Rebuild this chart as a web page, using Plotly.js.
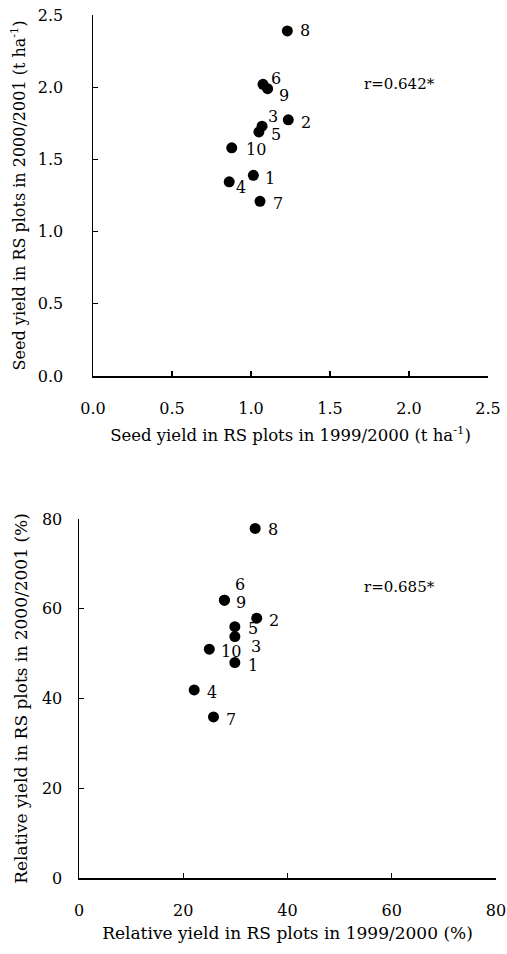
<!DOCTYPE html>
<html>
<head>
<meta charset="utf-8">
<script src="https://cdn.plot.ly/plotly-3.0.1.min.js"></script>
<style>html,body{margin:0;padding:0;background:#fff;}#chart{width:507px;height:954px;}</style>
</head>
<body>
<div id="chart"></div>
<script>
// Genotype numbers
const genotypes = ["1","2","3","4","5","6","7","8","9","10"];
// Top panel: seed yield (t/ha)
const seedYield1999 = [1.015, 1.236, 1.07, 0.862, 1.05, 1.076, 1.057, 1.23, 1.105, 0.878];
const seedYield2000 = [1.39, 1.774, 1.73, 1.345, 1.69, 2.02, 1.21, 2.39, 1.99, 1.58];
// Bottom panel: relative yield (%)
const relYield1999 = [29.9, 34.1, 29.9, 22.1, 29.9, 27.9, 25.8, 33.8, 27.9, 25.0];
const relYield2000 = [48.0, 57.9, 53.8, 41.9, 56.0, 61.9, 35.9, 77.9, 61.9, 51.0];
const rTop = "r=0.642*";
const rBottom = "r=0.685*";
const seedTicks = [0, 0.5, 1.0, 1.5, 2.0, 2.5];
const seedTickText = ["0.0","0.5","1.0","1.5","2.0","2.5"];
const relTicks = [0, 20, 40, 60, 80];

// label offsets (pixels) — styling only
const topShift = [[17,-3],[18,-3],[11,10],[12,-6],[17,-3],[13,6],[18,-2],[18,0],[16,-7],[24,-2]];
const botShift = [[18,-3],[17,-2],[21,-10],[18,-3],[18,-2],[16,16],[18,-3],[18,-1],[17,-2],[22,-2]];

const FONT = "DejaVu Serif, Liberation Serif, serif";

const traces = [
  {x: seedYield1999, y: seedYield2000, mode: "markers", type: "scatter",
   marker: {color: "#000", size: 11}, xaxis: "x", yaxis: "y", hoverinfo: "x+y"},
  {x: relYield1999, y: relYield2000, mode: "markers", type: "scatter",
   marker: {color: "#000", size: 11}, xaxis: "x2", yaxis: "y2", hoverinfo: "x+y"}
];

const annotations = [];
genotypes.forEach((g, i) => {
  annotations.push({x: seedYield1999[i], y: seedYield2000[i], xref: "x", yref: "y",
    text: g, showarrow: false, xshift: topShift[i][0], yshift: topShift[i][1],
    font: {family: FONT, size: 16, color: "#000"}});
  annotations.push({x: relYield1999[i], y: relYield2000[i], xref: "x2", yref: "y2",
    text: g, showarrow: false, xshift: botShift[i][0], yshift: botShift[i][1],
    font: {family: FONT, size: 16, color: "#000"}});
});
annotations.push({x: 1.943, y: 2.02, xref: "x", yref: "y", text: rTop, showarrow: false,
  font: {family: FONT, size: 15, color: "#000"}});
annotations.push({x: 61.4, y: 64.8, xref: "x2", yref: "y2", text: rBottom, showarrow: false,
  font: {family: FONT, size: 15, color: "#000"}});

const axisCommon = {
  showgrid: false, zeroline: false, showline: true, linecolor: "#000", linewidth: 1.5,
  ticks: "inside", ticklen: 5, tickwidth: 1.3, tickcolor: "#000",
  tickfont: {family: FONT, size: 16, color: "#000"}, automargin: false, fixedrange: true
};

const layout = {
  width: 507, height: 954,
  margin: {l: 0, r: 0, t: 0, b: 0},
  paper_bgcolor: "#fff", plot_bgcolor: "#fff",
  showlegend: false,
  xaxis: Object.assign({}, axisCommon, {
    domain: [93/507, 488/507], anchor: "y", range: [0, 2.5],
    tickvals: seedTicks, ticktext: seedTickText, ticklabelstandoff: 17,
    title: {text: "Seed yield in RS plots in 1999/2000 (t ha<sup>-1</sup>)", standoff: 12,
      font: {family: FONT, size: 16.5, color: "#000"}}
  }),
  yaxis: Object.assign({}, axisCommon, {
    domain: [1 - 376/954, 1 - 15/954], anchor: "x", range: [0, 2.5],
    tickvals: seedTicks, ticktext: seedTickText, ticklabelstandoff: 25,
    title: {text: "Seed yield in RS plots in 2000/2001 (t ha<sup>-1</sup>)", standoff: 8,
      font: {family: FONT, size: 16, color: "#000"}}
  }),
  xaxis2: Object.assign({}, axisCommon, {
    domain: [79/507, 496/507], anchor: "y2", range: [0, 80],
    tickvals: relTicks, ticklabelstandoff: 17,
    title: {text: "Relative yield in RS plots in 1999/2000 (%)", standoff: 8,
      font: {family: FONT, size: 17, color: "#000"}}
  }),
  yaxis2: Object.assign({}, axisCommon, {
    domain: [1 - 878/954, 1 - 519/954], anchor: "x2", range: [0, 80],
    tickvals: relTicks, ticklabelstandoff: 12,
    title: {text: "Relative yield in RS plots in 2000/2001 (%)", standoff: 10,
      font: {family: FONT, size: 17, color: "#000"}}
  }),
  annotations: annotations
};

Plotly.newPlot("chart", traces, layout, {displayModeBar: false, staticPlot: true});
</script>
</body>
</html>
